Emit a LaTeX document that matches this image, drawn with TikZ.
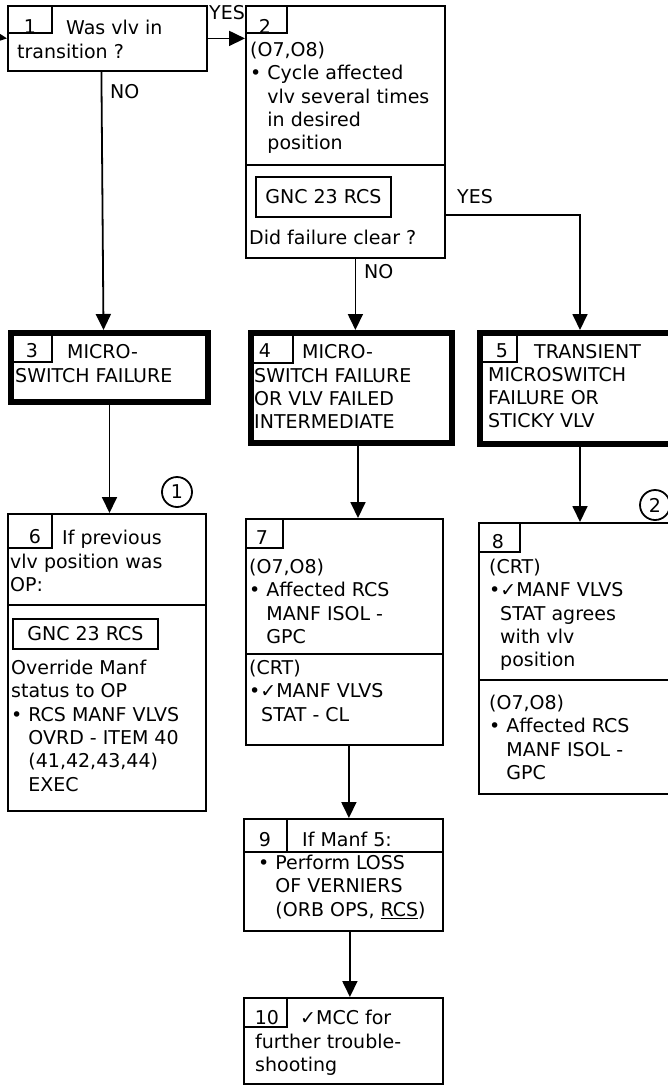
\documentclass[tikz,border=0pt]{standalone}
\usepackage{fontspec}
\setmainfont{DejaVu Sans}
\usetikzlibrary{arrows.meta,calc}
\newcommand\bulind{\hphantom{•\ }}
\newcommand\tfont{\fontsize{19}{23.3}\selectfont}
\begin{document}
\begin{tikzpicture}[x=1pt,y=-1pt,
  box/.style={draw, line width=1.8pt, inner sep=0pt, anchor=north west},
  thickbox/.style={draw, line width=6pt, inner sep=0pt, anchor=north west},
  lbl/.style={inner sep=0pt, anchor=north west, align=left, font=\tfont},
  num/.style={inner sep=0pt, anchor=base, font=\tfont},
  rule/.style={line width=1.8pt},
  arr/.style={line width=1.8pt, -{Triangle[width=15pt,length=16pt]}},
  circ/.style={draw, circle, line width=1.8pt, minimum size=30pt, inner sep=0pt, font=\tfont},
  gnc/.style={draw, line width=1.8pt, inner sep=0pt, anchor=north west, font=\tfont}
]
\useasboundingbox (0,0) rectangle (668,1085);
\clip (0,0) rectangle (668,1085);
\fill[white] (0,0) rectangle (668,1085);

% ---------- Box 1
\node[box, minimum width=199pt, minimum height=65pt] (b1) at (7,5) {};
\draw[rule] (7,33) -| (52,5);
\node[num] (n1) at (30,33) {1};
\node[lbl, anchor=base west] (t1a) at (66,34) {Was vlv in};
\node[lbl, anchor=base west] (t1b) at (17,58) {transition ?};
\node[lbl, anchor=base west] (yes1) at (209,19) {YES};
\node[lbl, anchor=base west] (no1) at (110,98) {NO};

% ---------- Box 2
\node[box, minimum width=199pt, minimum height=252pt] (b2) at (245,5) {};
\draw[rule] (245,33) -| (287,5);
\draw[rule] (245,165) -- (444,165);
\node[num] (n2) at (265,33) {2};
\node[lbl] (t2a) at (250,42) {(O7,O8)\\• Cycle affected\\\bulind vlv several times\\\bulind in desired\\\bulind position};
\node[gnc, minimum width=135pt, minimum height=40pt] (g2) at (255,176) {GNC 23 RCS};
\node[lbl, anchor=base west] (t2b) at (249,244) {Did failure clear ?};
\node[lbl, anchor=base west] (yes2) at (457,203) {YES};
\node[lbl, anchor=base west] (no2) at (364,278) {NO};

% ---------- Box 3
\node[thickbox, minimum width=197pt, minimum height=69pt] (b3) at (8,330) {};
\draw[rule] (8,362) -| (52,330);
\node[num] (n3) at (32,357) {3};
\node[lbl, anchor=base west] (t3a) at (67,358) {MICRO-};
\node[lbl, anchor=base west] (t3b) at (15,382) {SWITCH FAILURE};

% ---------- Box 4
\node[thickbox, minimum width=201pt, minimum height=110pt] (b4) at (248,330) {};
\draw[rule] (250,363) -| (293,330);
\node[num] (n4) at (265,357) {4};
\node[lbl, anchor=base west] (t4a) at (302,358) {MICRO-};
\node[lbl] (t4b) at (254,368) {SWITCH FAILURE\\OR VLV FAILED\\INTERMEDIATE};

% ---------- Box 5
\node[thickbox, minimum width=200pt, minimum height=111pt] (b5) at (477,330) {};
\draw[rule] (479,362) -| (517,330);
\node[num] (n5) at (502,357) {5};
\node[lbl, anchor=base west] (t5a) at (534,358) {TRANSIENT};
\node[lbl] (t5b) at (488,367) {MICROSWITCH\\FAILURE OR\\STICKY VLV};

% ---------- Box 6
\node[box, minimum width=198pt, minimum height=297pt] (b6) at (7,513) {};
\draw[rule] (7,548) -| (52,513);
\draw[rule] (7,605) -- (205,605);
\node[num] (n6) at (35,543) {6};
\node[lbl, anchor=base west] (t6a) at (62,544) {If previous};
\node[lbl] (t6b) at (10,554) {vlv position was\\OP:};
\node[gnc, minimum width=145pt, minimum height=30pt] (g6) at (12,618) {GNC 23 RCS};
\node[lbl] (t6c) at (11,660) {Override Manf\\status to OP\\• RCS MANF VLVS\\\bulind OVRD - ITEM 40\\\bulind (41,42,43,44)\\\bulind EXEC};
\node[circ] (c1) at (177,492) {1};

% ---------- Box 7
\node[box, minimum width=197pt, minimum height=226pt] (b7) at (245,518) {};
\draw[rule] (245,548) -| (283,518);
\draw[rule] (245,654) -- (442,654);
\node[num] (n7) at (262,544) {7};
\node[lbl] (t7a) at (249,559) {(O7,O8)\\• Affected RCS\\\bulind MANF ISOL -\\\bulind GPC};
\node[lbl] (t7b) at (249,660) {(CRT)\\•✓MANF VLVS\\\hspace*{12pt}STAT - CL};

% ---------- Box 8
\node[box, minimum width=198pt, minimum height=271pt] (b8) at (478,522) {};
\draw[rule] (478,552) -| (520,522);
\draw[rule] (478,680) -- (676,680);
\node[num] (n8) at (498,548) {8};
\node[lbl] (t8a) at (489,559) {(CRT)\\•✓MANF VLVS\\\hspace*{11pt}STAT agrees\\\hspace*{11pt}with vlv\\\hspace*{11pt}position};
\node[lbl] (t8b) at (489,695) {(O7,O8)\\• Affected RCS\\\bulind MANF ISOL -\\\bulind GPC};
\node[circ] (c2) at (655,505) {2};

% ---------- Box 9
\node[box, minimum width=199pt, minimum height=112pt] (b9) at (243,818) {};
\draw[rule] (243,852) -- (442,852);
\draw[rule] (287,818) -- (287,852);
\node[num] (n9) at (265,846) {9};
\node[lbl, anchor=base west] (t9a) at (302,846) {If Manf 5:};
\node[lbl] (t9b) at (258,855) {• Perform LOSS\\\bulind OF VERNIERS\\\bulind (ORB OPS, \underline{RCS})};

% ---------- Box 10
\node[box, minimum width=199pt, minimum height=86pt] (b10) at (243,997) {};
\draw[rule] (243,1027) -| (287,997);
\node[num] (n10) at (267,1024) {10};
\node[lbl, anchor=base west] (t10a) at (300,1024) {✓MCC for};
\node[lbl] (t10b) at (255,1034) {further trouble-\\shooting};

% ---------- Connectors
\coordinate (in) at (0,37.5);
\draw[arr] (in) -- (b1.west);
\draw[arr] (b1.east) -- (b1.east -| b2.west);
\draw[arr] ([xshift=-6pt]b1.south) -- ([xshift=-6pt]b3.north);
\draw[arr] (b3.south) -- (b3.south |- b6.north);
\draw[arr] ([xshift=10pt]b2.south) -- ([xshift=10pt]b2.south |- b4.north);
\draw[arr] ([yshift=44pt]b2.south east) -| (b5.north);
\draw[arr] ([xshift=6.5pt]b4.south) -- ([xshift=6.5pt]b4.south |- b7.north);
\draw[arr] (b5.south) -- (b5.south |- b8.north);
\draw[arr] ([xshift=4.5pt]b7.south) -- ([xshift=4.5pt]b7.south |- b9.north);
\draw[arr] ([xshift=6.5pt]b9.south) -- ([xshift=6.5pt]b9.south |- b10.north);
\end{tikzpicture}
\end{document}
